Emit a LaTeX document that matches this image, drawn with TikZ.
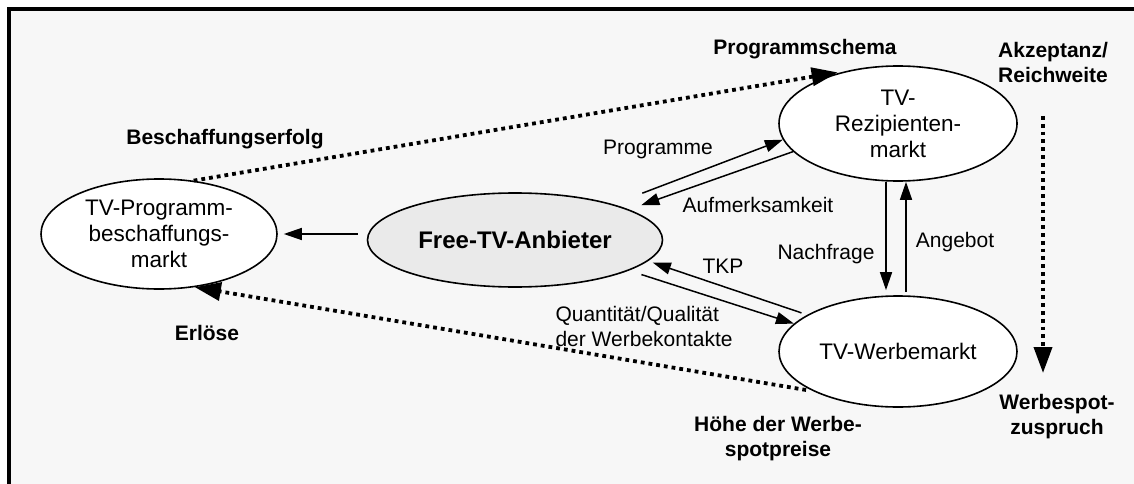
\documentclass[tikz,border=0pt]{standalone}
\usepackage{fontspec}
\setmainfont{Liberation Sans}
\usetikzlibrary{arrows.meta,shapes.geometric}

\definecolor{bggray}{HTML}{F7F7F7}
\definecolor{anbgray}{HTML}{EAEAEA}

\tikzset{
  mkt/.style={ellipse,draw,line width=1.6pt,fill=white,inner sep=0pt,
    align=center,font=\fontsize{22.5}{26}\selectfont},
  lbl/.style={align=center,font=\fontsize{21}{25}\selectfont},
  blbl/.style={align=center,font=\bfseries\fontsize{21}{25}\selectfont},
  flow/.style={-{Triangle[length=18pt,width=12pt]},line width=1.5pt},
  effect/.style={-{Triangle[length=26pt,width=18pt]},line width=3.8pt,
    dash pattern=on 3.8pt off 4pt}
}

\begin{document}
\begin{tikzpicture}[x=1pt,y=-1pt]
\path[use as bounding box,clip] (0,0) rectangle (1134,484);
\draw[line width=4pt,fill=bggray] (9,9) rectangle (1150,500);

% maerkte
\path
(159,234)   node[mkt,minimum width=236pt,minimum height=110pt] (prog) {TV-Programm-\\beschaffungs-\\markt}
(515,240)   node[mkt,fill=anbgray,minimum width=295pt,minimum height=94pt,
              font=\bfseries\fontsize{24}{28}\selectfont] (anb) {Free-TV-Anbieter}
(898,123.5) node[mkt,minimum width=238pt,minimum height=115pt] (rez) {TV-\\Rezipienten-\\markt}
(898,351.5) node[mkt,minimum width=238pt,minimum height=111pt] (werb) {TV-Werbemarkt}
;

% beschriftungen
\path
(805,49)  node[blbl] (schema) {Programmschema}
(1053,62) node[blbl] (akz) {Akzeptanz/\\Reichweite}
(225,139) node[blbl] (erfolg) {Beschaffungserfolg}
(207,333) node[blbl] (erl) {Erlöse}
(778,439) node[blbl] (preise) {Höhe der Werbe-\\spotpreise}
(1057,417) node[blbl] (zuspr) {Werbespot-\\zuspruch}
(658,149) node[lbl] (prgm) {Programme}
(758,205) node[lbl] (aufm) {Aufmerksamkeit}
(723,266) node[lbl] (tkp) {TKP}
(552,326) node[lbl,anchor=west,align=left] (qual) {Quantität/Qualität\\der Werbekontakte}
(826,254) node[lbl] (nachf) {Nachfrage}
(955,242) node[lbl] (angeb) {Angebot}
;
\coordinate (rwTop) at (1043,116);
\coordinate (rwBot) at (1043,373);

\draw[flow,shorten <=9pt,shorten >=6pt] (prog.east -| anb.west) -- (prog.east);
\draw[flow,shorten <=31pt] (anb.20) -- (rez.188);
\draw[flow,shorten >=13pt] (rez.195) -- (anb.15);
\draw[flow,shorten <=6pt,shorten >=5pt] (werb.158) -- (anb.-9);
\draw[flow,shorten <=13pt] (anb.-15) -- (werb.165);
\draw[flow,shorten >=5pt] ([xshift=-12pt]rez.south) -- ([xshift=-12pt]werb.north);
\draw[flow,shorten <=3pt] ([xshift=8pt]werb.north) -- ([xshift=8pt]rez.south);

\draw[effect,shorten >=8pt] (prog.57) -- (rez.135);
\draw[effect,shorten <=7pt] (werb.-155) -- (prog.-56);
\draw[effect] (rwTop) -- (rwBot);
\end{tikzpicture}
\end{document}
